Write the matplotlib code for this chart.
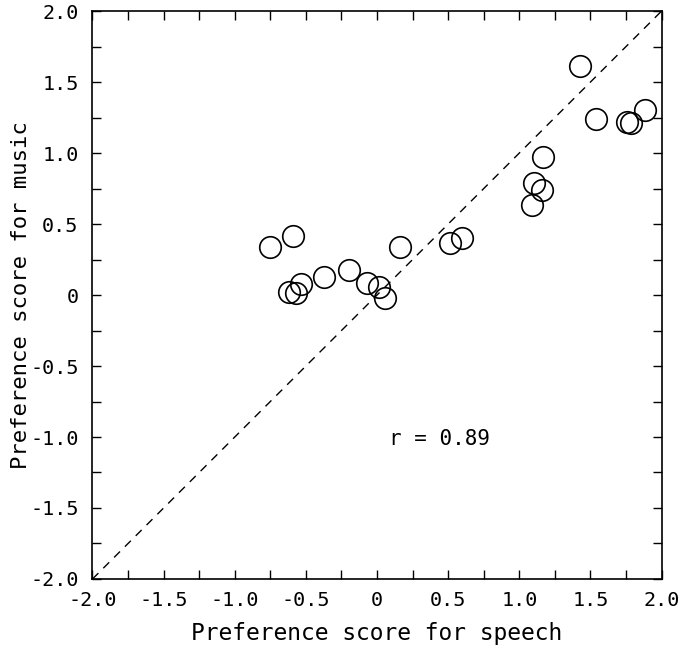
import numpy as np
import matplotlib
matplotlib.use("Agg")
import matplotlib.pyplot as plt

# preference scores
speech = [-0.750, -0.592, -0.620, -0.568, -0.533, -0.370, -0.199, -0.070, 0.011, 0.056,
          0.163, 0.512, 0.600, 1.087, 1.103, 1.157, 1.166, 1.426, 1.536, 1.757, 1.788, 1.886]
music = [0.341, 0.419, 0.018, 0.011, 0.078, 0.124, 0.177, 0.082, 0.059, -0.021,
         0.341, 0.367, 0.403, 0.636, 0.788, 0.742, 0.972, 1.614, 1.236, 1.219, 1.208, 1.302]
ticks = [-2.0, -1.5, -1.0, -0.5, 0.0, 0.5, 1.0, 1.5, 2.0]
tick_labels = ["-2.0", "-1.5", "-1.0", "-0.5", "0", "0.5", "1.0", "1.5", "2.0"]
r_text = "r = 0.89"

plt.rcParams["font.family"] = ["DejaVu Sans Mono"]
plt.rcParams["axes.unicode_minus"] = False

fig = plt.figure(figsize=(6.8, 6.51), dpi=100)
ax = fig.add_axes([0.136, 0.1106, 0.837, 0.8725])

ax.plot([-2, 2], [-2, 2], color="black", lw=1.0, ls=(0, (6, 5)))
ax.plot(speech, music, ls="none", marker="o", ms=15.5, mfc="none", mec="black", mew=1.2)
ax.text(0.437, -1.015, r_text, ha="center", va="center", fontsize=15)

ax.set_xlim(-2, 2); ax.set_ylim(-2, 2)
ax.set_xticks(ticks); ax.set_xticklabels(tick_labels)
ax.set_yticks(ticks); ax.set_yticklabels(tick_labels)
ax.set_xticks(np.arange(-1.75, 2, 0.5), minor=True)
ax.set_yticks(np.arange(-1.75, 2, 0.5), minor=True)
ax.tick_params(which="both", direction="in", top=True, right=True, length=6.5, width=1.0)
ax.tick_params(axis="x", labelsize=14.5, pad=9)
ax.tick_params(axis="y", labelsize=14.5, pad=10)
for s in ax.spines.values():
    s.set_linewidth(1.2)

ax.set_xlabel("Preference score for speech", fontsize=16.5, labelpad=8)
ax.set_ylabel("Preference score for music", fontsize=16)
ax.yaxis.set_label_coords(-0.108, 0.5)

fig.savefig("out.png", dpi=100)
